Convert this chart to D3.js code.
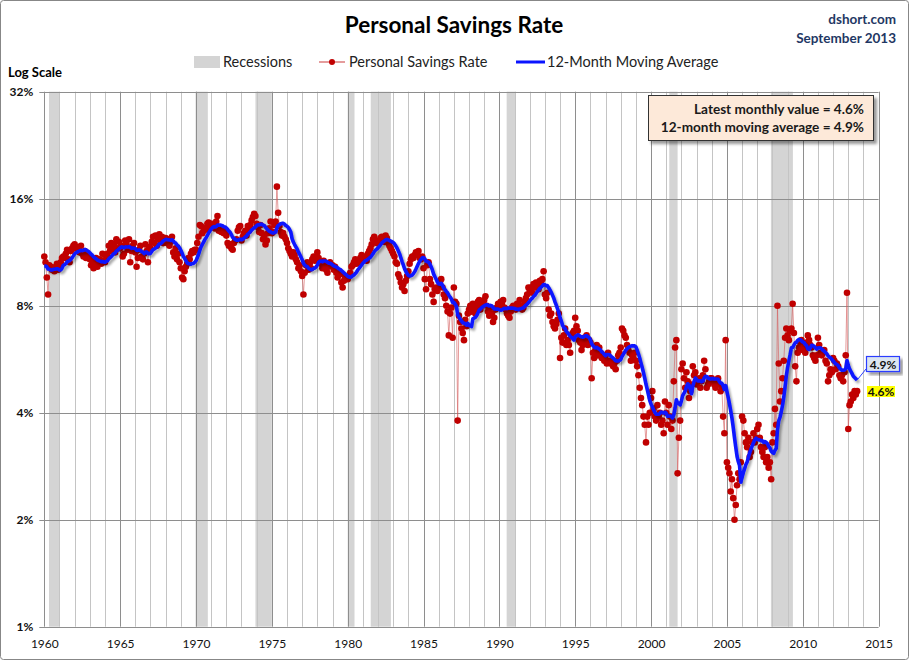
<!DOCTYPE html>
<html><head><meta charset="utf-8">
<script src="https://cdn.jsdelivr.net/npm/d3@7"></script>
<style>
body{margin:0;background:#fff}
svg{display:block}
text{font-family:Lato,"Open Sans","DejaVu Sans",sans-serif}
</style>
</head><body>
<svg id="chart" width="911" height="662"></svg>
<script>
// ---------- DATA ----------
const startYear = 1959;          // first month of the series = Jan 1959 (used only to seed the 12-month average)
const savingsRate = [
 11.2,10.6,10.3,10.4,10.5,10.8,10.2, 9.7, 9.9,10.1,10.3,10.4, // 1959
 11.0,10.6, 9.6, 8.6,10.4,10.3,10.1,10.2,10.0,10.3,10.5,10.1, // 1960
 10.3,10.6,10.9,11.0,10.9,11.2,11.5,10.8,10.6,11.4,11.6,11.8, // 1961
 11.9,11.7,11.5,11.6,11.3,11.8,11.2,11.0,11.4,10.9,11.0,11.1, // 1962
 10.8,10.4,10.6,10.2,10.5,10.9,10.3,10.6,10.8,10.5,11.2,10.7, // 1963
 10.6,11.0,11.2,11.8,11.4,12.0,11.5,11.9,11.3,12.3,11.6,12.1, // 1964
 11.6,11.8,11.0,11.2,12.2,11.9,11.5,12.3,10.6,11.4,11.8,12.0, // 1965
 11.3,10.3,10.9,11.5,11.8,11.0,10.8,11.2,11.9,11.4,10.6,11.7, // 1966
 11.6,12.1,12.5,12.0,12.6,11.8,12.3,12.7,12.2,12.5,12.0,12.4, // 1967
 12.4,12.0,12.3,11.8,12.1,12.5,11.3,11.0,11.6,10.8,11.2,10.6, // 1968
 10.2, 9.6, 9.5,10.0,10.3,10.5,10.9,10.8,11.2,11.4,11.3,11.5, // 1969
 11.5,12.0,12.5,13.5,13.4,12.8,13.0,13.2,13.1,13.6,13.7,13.4, // 1970
 13.5,13.6,13.4,13.2,13.8,14.3,13.0,13.2,12.9,13.1,12.8,13.0, // 1971
 12.6,12.0,11.8,11.9,11.6,11.5,12.0,12.2,12.3,13.0,13.3,13.4, // 1972
 12.2,12.5,12.8,13.0,12.6,13.4,13.0,13.5,13.9,14.2,14.5,14.3, // 1973
 13.6,13.3,12.9,13.5,12.8,12.3,12.6,11.9,12.2,12.8,13.2,13.8, // 1974
 12.8,12.9,13.5,13.8,17.3,14.6,13.4,12.9,12.6,12.8,12.5,12.3, // 1975
 12.0,11.6,11.4,11.2,11.0,11.3,11.1,10.8,10.6,10.2,10.4,10.0, // 1976
  9.7, 8.6, 9.9,10.4,10.6,10.1,10.5,10.2,10.8,11.0,10.7,10.9, // 1977
 11.3,10.9,10.6,10.5,10.2,10.7,10.4,10.1, 9.9,10.3,10.6,10.4, // 1978
 10.4,10.1,10.3, 9.9, 9.6,10.0, 9.8, 9.3, 9.0, 9.4, 9.6, 9.7, // 1979
  9.5, 9.7, 9.9,10.3,10.4,10.6,10.8,10.5,10.7,10.6,10.9,11.1, // 1980
 10.9,10.8,11.0,10.7,11.2,11.4,11.6,11.9,12.3,12.5,12.2,12.0, // 1981
 12.0,12.2,12.4,12.5,12.3,12.1,12.6,12.4,12.0,11.8,11.6,11.4, // 1982
 11.2,11.0,10.6,10.5, 9.8, 9.6, 9.3, 9.0, 9.2, 8.8, 9.4, 9.7, // 1983
 10.0,10.5,10.8,11.0,10.9,11.1,11.3,11.2,11.4,10.9,10.8,11.0, // 1984
 10.2, 9.5, 8.9,10.4,10.6, 9.5, 9.2, 8.6, 8.2, 8.9, 9.0, 8.8, // 1985
  9.0, 9.3, 9.5, 9.0, 8.6, 8.4, 8.0, 7.7, 6.6, 7.6, 7.9, 6.5, // 1986
  9.0, 8.2, 8.1, 3.8, 7.5, 7.2, 6.9, 6.7, 6.4, 7.3, 7.0, 7.6, // 1987
  7.8, 8.0, 7.7, 8.1, 7.9, 7.6, 7.9, 8.2, 8.3, 7.8, 8.0, 8.1, // 1988
  8.3, 8.5, 8.0, 7.7, 7.5, 7.9, 7.6, 7.2, 7.4, 7.8, 7.9, 8.1, // 1989
  8.0, 8.2, 8.1, 8.3, 7.9, 7.8, 7.6, 7.5, 7.4, 7.7, 7.9, 8.0, // 1990
  7.9, 7.8, 8.1, 8.0, 8.3, 8.0, 7.8, 7.9, 8.2, 8.4, 8.6, 9.0, // 1991
  8.8, 9.0, 8.7, 9.2, 9.0, 9.3, 9.1, 8.9, 9.4, 9.2, 9.5,10.0, // 1992
  8.6, 8.4, 8.7, 7.8, 7.5, 7.6, 7.2, 7.0, 6.9, 7.1, 7.3, 7.6, // 1993
  5.7, 6.5, 6.3, 6.6, 6.9, 6.2, 6.4, 6.2, 5.9, 6.6, 6.7, 6.8, // 1994
  7.4, 7.0, 6.8, 6.4, 6.3, 6.0, 6.2, 6.5, 6.3, 6.6, 6.2, 6.4, // 1995
  6.3, 5.0, 5.9, 5.7, 6.0, 6.2, 5.8, 6.1, 5.9, 5.7, 5.8, 5.6, // 1996
  5.8, 5.5, 5.9, 5.6, 5.5, 5.6, 5.4, 5.5, 5.3, 5.6, 5.8, 5.9, // 1997
  6.1, 6.9, 6.8, 6.6, 6.5, 6.2, 6.0, 5.9, 5.6, 5.8, 5.7, 5.9, // 1998
  5.6, 5.4, 5.1, 4.7, 4.4, 4.2, 3.9, 3.7, 3.3, 3.9, 3.7, 4.0, // 1999
  4.4, 4.6, 4.1, 3.9, 3.8, 4.2, 3.9, 4.0, 3.7, 3.8, 3.5, 4.3, // 2000
  4.0, 3.7, 4.2, 3.9, 3.6, 3.8, 4.9, 6.1, 6.4, 2.7, 3.4, 3.8, // 2001
  5.3, 5.5, 5.0, 4.7, 5.2, 4.9, 4.4, 4.6, 4.8, 5.4, 5.1, 5.2, // 2002
  4.8, 4.9, 5.0, 4.7, 4.9, 5.1, 5.6, 5.3, 4.7, 4.8, 4.9, 5.0, // 2003
  5.0, 4.9, 4.8, 4.7, 4.9, 5.0, 4.8, 4.6, 4.7, 3.9, 3.5, 6.4, // 2004
  2.9, 2.8, 2.7, 2.4, 2.6, 2.3, 2.0, 2.2, 2.5, 2.7, 2.6, 2.9, // 2005
  3.9, 3.8, 3.5, 3.3, 3.2, 3.4, 3.0, 3.1, 3.3, 3.5, 3.3, 3.4, // 2006
  3.6, 3.7, 3.4, 3.2, 3.1, 3.0, 3.2, 2.9, 3.0, 2.8, 2.9, 2.6, // 2007
  3.3, 3.5, 4.1, 3.7, 8.0, 5.5, 4.3, 4.6, 5.0, 5.6, 6.5, 6.9, // 2008
  6.6, 6.4, 6.8, 6.9, 8.1, 6.7, 5.4, 4.9, 5.9, 6.1, 6.3, 6.4, // 2009
  6.0, 6.1, 5.9, 6.3, 6.6, 6.4, 6.2, 6.1, 5.8, 5.7, 5.6, 5.8, // 2010
  6.5, 6.2, 5.9, 5.8, 5.9, 6.0, 5.6, 5.5, 4.9, 5.1, 5.3, 5.2, // 2011
  5.7, 5.6, 5.3, 5.5, 5.4, 5.1, 5.0, 5.1, 4.9, 5.2, 5.8, 8.7, // 2012
  3.6, 4.2, 4.3, 4.5, 4.4, 4.6, 4.5, 4.6                      // 2013
];
const recessionStart = [1960.31, 1969.97, 1973.92, 1980.0, 1981.52, 1990.48, 2001.2, 2007.9];
const recessionEnd   = [1961.0,  1970.78, 1975.0, 1980.45, 1982.85, 1991.05, 2001.75, 2009.35];
const yTickValues = [1, 2, 4, 8, 16, 32];
const xTickValues = [1960,1965,1970,1975,1980,1985,1990,1995,2000,2005,2010,2015];
const latestMonthly = 4.6;
const latestAverage = 4.9;

// ---------- SETUP ----------
const svg = d3.select("#chart");
const plot = {left:44.3, right:878.6, top:91.7, bottom:626.7};
const x = d3.scaleLinear().domain([1960, 2015]).range([plot.left, plot.right]);
const y = d3.scaleLog().base(2).domain([1, 32]).range([plot.bottom, plot.top]);

const series = savingsRate.map((v, i) => ({t: startYear + i / 12, v}));
const ma = [];
for (let i = 11; i < series.length; i++) {
  ma.push({t: series[i].t, v: d3.mean(savingsRate.slice(i - 11, i + 1))});
}
const shown = series.filter(d => d.t >= 1960);
const maShown = ma.filter(d => d.t >= 1960);

const defs = svg.append("defs");
const f1 = defs.append("filter").attr("id","lineShadow").attr("x","-5%").attr("y","-5%").attr("width","110%").attr("height","110%");
f1.append("feDropShadow").attr("dx",2).attr("dy",2.5).attr("stdDeviation",1.3).attr("flood-color","#000").attr("flood-opacity",0.35);
const f2 = defs.append("filter").attr("id","boxShadow").attr("x","-10%").attr("y","-20%").attr("width","120%").attr("height","150%");
f2.append("feDropShadow").attr("dx",3).attr("dy",3).attr("stdDeviation",1.5).attr("flood-color","#000").attr("flood-opacity",0.4);

// outer frame
svg.append("rect").attr("x",0.5).attr("y",0.5).attr("width",908).attr("height",659)
  .attr("rx",3).attr("fill","#fff").attr("stroke","#878787");

// recessions
svg.append("g").selectAll("rect").data(recessionStart).join("rect")
  .attr("x", (d) => x(d))
  .attr("width", (d, i) => x(recessionEnd[i]) - x(d))
  .attr("y", plot.top).attr("height", plot.bottom - plot.top)
  .attr("fill", "#d4d4d4");

// vertical gridlines
const grid = svg.append("g");
grid.selectAll("line.v").data(d3.range(1961, 2016)).join("line")
  .attr("x1", d => Math.round(x(d)) + 0.5).attr("x2", d => Math.round(x(d)) + 0.5)
  .attr("y1", plot.top).attr("y2", plot.bottom)
  .attr("stroke", d => d % 5 === 0 ? "#8e8e8e" : "#c4c4c4").attr("stroke-width", 1);
// horizontal gridlines
grid.selectAll("line.h").data(yTickValues).join("line")
  .attr("x1", plot.left - 5).attr("x2", plot.right)
  .attr("y1", d => Math.round(y(d)) + 0.5).attr("y2", d => Math.round(y(d)) + 0.5)
  .attr("stroke", "#8e8e8e");
// left axis line
grid.append("line").attr("x1", Math.round(plot.left)+0.5).attr("x2", Math.round(plot.left)+0.5)
  .attr("y1", plot.top).attr("y2", plot.bottom).attr("stroke","#8e8e8e");

// y axis labels
const yAxis = d3.axisLeft(y).tickValues(yTickValues).tickFormat(d => d + "%").tickSize(0).tickPadding(11);
const gy = svg.append("g").attr("transform", `translate(${plot.left},0)`).call(yAxis);
gy.select(".domain").remove();
gy.selectAll("text").attr("font-size", 12).attr("font-weight", "bold").attr("fill", "#111")
  .attr("font-family", "Lato, sans-serif");

// x axis labels
const xAxis = d3.axisBottom(x).tickValues(xTickValues).tickFormat(d3.format("d")).tickSize(0).tickPadding(13);
const gx = svg.append("g").attr("transform", `translate(0,${plot.bottom})`).call(xAxis);
gx.select(".domain").remove();
gx.selectAll("text").attr("font-size", 12).attr("fill", "#111").attr("font-family", "Lato, sans-serif");

// red monthly series
svg.append("path").datum(shown)
  .attr("d", d3.line().x(d => x(d.t)).y(d => y(d.v)))
  .attr("fill", "none").attr("stroke", "#d45a5a").attr("stroke-opacity", 0.6).attr("stroke-width", 1);
svg.append("g").selectAll("circle").data(shown).join("circle")
  .attr("cx", d => x(d.t)).attr("cy", d => y(d.v)).attr("r", 3.3)
  .attr("fill", "#c00000");

// 12-month moving average
svg.append("path").datum(maShown)
  .attr("d", d3.line().x(d => x(d.t)).y(d => y(d.v)))
  .attr("fill", "none").attr("stroke", "#0a14ff").attr("stroke-width", 3.6)
  .attr("stroke-linejoin", "round").attr("filter", "url(#lineShadow)");

// title block
svg.append("text").attr("x", 454).attr("y", 33).attr("text-anchor", "middle")
  .attr("font-size", 22.5).attr("font-weight", "bold").attr("fill", "#000").text("Personal Savings Rate");
svg.append("text").attr("x", 896).attr("y", 24).attr("text-anchor", "end")
  .attr("font-size", 13.5).attr("font-weight", "bold").attr("fill", "#1f3864").text("dshort.com");
svg.append("text").attr("x", 896).attr("y", 43).attr("text-anchor", "end")
  .attr("font-size", 13.5).attr("font-weight", "bold").attr("fill", "#1f3864").text("September 2013");
svg.append("text").attr("x", 8).attr("y", 77)
  .attr("font-size", 13).attr("font-weight", "bold").attr("fill", "#000").text("Log Scale");

// legend
const lg = svg.append("g");
lg.append("rect").attr("x", 194).attr("y", 56).attr("width", 26).attr("height", 12).attr("fill", "#d4d4d4");
lg.append("text").attr("x", 223).attr("y", 67).attr("font-size", 14.5).attr("fill", "#222").text("Recessions");
lg.append("line").attr("x1", 319).attr("x2", 345).attr("y1", 62).attr("y2", 62).attr("stroke", "#d45a5a").attr("stroke-width", 1.2);
lg.append("circle").attr("cx", 332).attr("cy", 62).attr("r", 3).attr("fill", "#c00000");
lg.append("text").attr("x", 349).attr("y", 67).attr("font-size", 14.5).attr("fill", "#222").text("Personal Savings Rate");
lg.append("line").attr("x1", 516).attr("x2", 545).attr("y1", 62).attr("y2", 62).attr("stroke", "#0a14ff").attr("stroke-width", 3);
lg.append("text").attr("x", 547).attr("y", 67).attr("font-size", 14.5).attr("fill", "#222").text("12-Month Moving Average");

// annotation box
const ab = svg.append("g");
ab.append("rect").attr("x", 648.5).attr("y", 95.5).attr("width", 225).attr("height", 45)
  .attr("fill", "#fde9d9").attr("stroke", "#333").attr("stroke-width", 1).attr("filter", "url(#boxShadow)");
ab.append("text").attr("x", 864).attr("y", 114).attr("text-anchor", "end")
  .attr("font-size", 13.6).attr("font-weight", "bold").attr("fill", "#1a1a1a")
  .text(`Latest monthly value = ${latestMonthly}%`);
ab.append("text").attr("x", 864).attr("y", 132).attr("text-anchor", "end")
  .attr("font-size", 13.6).attr("font-weight", "bold").attr("fill", "#1a1a1a")
  .text(`12-month moving average = ${latestAverage}%`);

// end labels
const lastMA = maShown[maShown.length - 1];
const lastPt = shown[shown.length - 1];
svg.append("line").attr("x1", x(lastMA.t)).attr("y1", y(lastMA.v)).attr("x2", 866).attr("y2", 369)
  .attr("stroke", "#2a3cff").attr("stroke-width", 1);
svg.append("rect").attr("x", 866.5).attr("y", 356.5).attr("width", 33).attr("height", 15)
  .attr("fill", "#dbe5f1").attr("stroke", "#2a3cff").attr("stroke-width", 1.2).attr("filter", "url(#boxShadow)");
svg.append("text").attr("x", 883).attr("y", 368.5).attr("text-anchor", "middle")
  .attr("font-size", 12).attr("font-weight", "bold").attr("fill", "#111").text(`${latestAverage}%`);
svg.append("rect").attr("x", 867).attr("y", 386).attr("width", 28).attr("height", 11).attr("fill", "#ffff00");
svg.append("text").attr("x", 881).attr("y", 396).attr("text-anchor", "middle")
  .attr("font-size", 12).attr("font-weight", "bold").attr("fill", "#111").text(`${lastPt.v}%`);
</script>
</body></html>
